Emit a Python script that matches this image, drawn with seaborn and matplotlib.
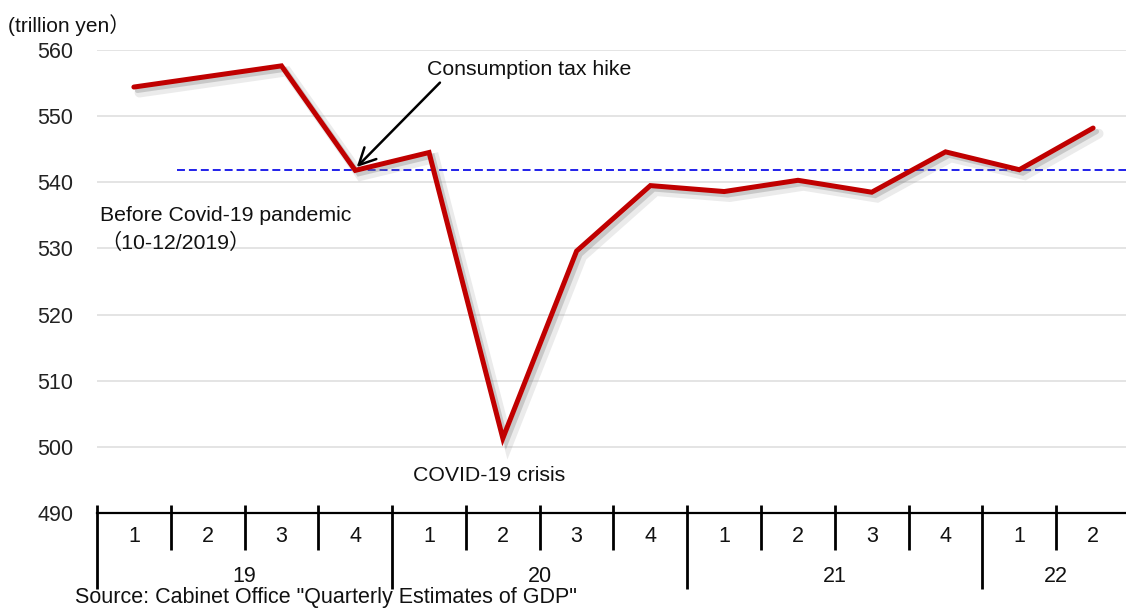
import matplotlib
matplotlib.use("Agg")
import matplotlib.pyplot as plt
import matplotlib.patheffects as pe
import numpy as np
import pandas as pd
import seaborn as sns

# Real GDP, trillion yen, quarterly (2019 Q1 - 2022 Q2)
years = ["19", "20", "21", "22"]
quarters_per_year = [4, 4, 4, 2]
quarter_labels = ["1", "2", "3", "4", "1", "2", "3", "4",
                  "1", "2", "3", "4", "1", "2"]
gdp = [554.4, 556.0, 557.6, 541.8, 544.5, 501.3, 529.6,
       539.5, 538.6, 540.3, 538.5, 544.6, 541.9, 548.2]
pre_covid_index = 3  # 2019 Q4 level used as the reference line
y_ticks = [490, 500, 510, 520, 530, 540, 550, 560]

sns.set_theme(style="white")
plt.rcParams["font.family"] = ["Liberation Sans", "Noto Sans CJK JP", "DejaVu Sans"]

W, H = 1126, 608
fig = plt.figure(figsize=(W / 100, H / 100), dpi=100)
# plot area in pixels: left 97, right 1130, top 50, bottom 513
ax = fig.add_axes([97 / W, (H - 513) / H, (1130 - 97) / W, (513 - 50) / H])

df = pd.DataFrame({"q": np.arange(len(gdp)), "gdp": gdp})
sns.lineplot(data=df, x="q", y="gdp", ax=ax, color="#c00000", linewidth=3.6,
             zorder=5)
line = ax.lines[-1]
line.set_solid_joinstyle("miter")
line.set_solid_capstyle("round")
line.set_path_effects([
    pe.SimpleLineShadow(offset=(4, -4), shadow_color="#7a7a7a", alpha=0.15, linewidth=7),
    pe.SimpleLineShadow(offset=(2.5, -2.5), shadow_color="#7a7a7a", alpha=0.3),
    pe.Normal(),
])

# pre-pandemic reference level
ax.plot([0.58, 13.6], [gdp[pre_covid_index]] * 2, color="#1010e8", lw=1.3,
        dashes=(4.4, 2.2), zorder=4)

ax.set_xlim(-0.5, 13.5)
ax.set_ylim(490, 560)
ax.set_yticks(y_ticks)
ax.set_yticklabels([str(v) for v in y_ticks], fontsize=15.5, color="#222222")
ax.tick_params(axis="y", length=0, pad=17)
ax.set_xticks([])
ax.set_xlabel("")
ax.set_ylabel("")
ax.yaxis.grid(True, color="#dcdcdc", lw=1.1)
ax.set_axisbelow(True)
for s in ["left", "top", "right"]:
    ax.spines[s].set_visible(False)
ax.spines["bottom"].set_color("black")
ax.spines["bottom"].set_linewidth(1.6)

# two-level category axis: quarter dividers (short) and year dividers (long)
xt = ax.get_xaxis_transform()
ax_h = 513 - 50
year_starts = np.cumsum([0] + quarters_per_year[:-1])
for k in range(len(gdp) + 1):
    bottom = -76 / ax_h if k in year_starts else -37 / ax_h
    ax.plot([k - 0.5, k - 0.5], [8 / ax_h, bottom], color="black", lw=2,
            transform=xt, clip_on=False, solid_capstyle="butt")
for i, lab in enumerate(quarter_labels):
    ax.text(i, -24 / ax_h, lab, transform=xt, ha="center", va="center",
            fontsize=15.5, color="#111111")
for start, n, yr in zip(year_starts, quarters_per_year, years):
    ax.text(start + (n - 1) / 2, -64 / ax_h, yr, transform=xt, ha="center",
            va="center", fontsize=15.5, color="#111111")

# annotations
ax.annotate("Consumption tax hike", xy=(3.02, gdp[3] + 0.5), xytext=(3.97, 557.0),
            fontsize=15.3, color="#111111", ha="left", va="center",
            arrowprops=dict(arrowstyle="->", color="black", lw=1.8,
                            shrinkA=0, shrinkB=0, mutation_scale=30,
                            relpos=(0.08, 0.0)))
ax.text(4.81, 495.6, "COVID-19 crisis", fontsize=15.3, color="#111111",
        ha="center", va="center")
ax.text(-0.46, 535.0, "Before Covid-19 pandemic", fontsize=15.3, color="#111111",
        ha="left", va="center")
ax.text(-0.46, 530.9, "（10-12/2019）", fontsize=15.3, color="#111111",
        ha="left", va="center")

fig.text(8 / W, 1 - 25 / H, "(trillion yen）", fontsize=15, color="#111111",
         ha="left", va="center")
fig.text(75 / W, 1 - 597 / H, 'Source: Cabinet Office "Quarterly Estimates of GDP"',
         fontsize=15.5, color="#111111", ha="left", va="center")

fig.savefig("out.png", dpi=100)
